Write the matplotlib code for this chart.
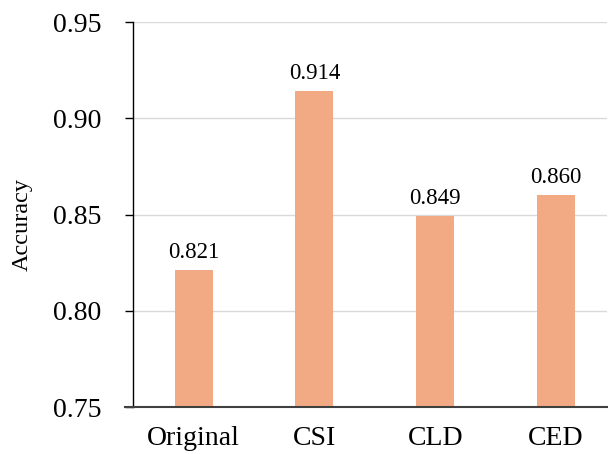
import matplotlib.pyplot as plt

# Data
methods = ['Original', 'CSI', 'CLD', 'CED']
accuracy = [0.821, 0.914, 0.849, 0.860]
value_labels = ['0.821', '0.914', '0.849', '0.860']

plt.rcParams['font.family'] = ['Liberation Serif', 'DejaVu Serif']

fig = plt.figure(figsize=(6.08, 4.54), dpi=100)
ax = fig.add_axes([0.219, 0.1035, 0.779, 0.848])

x = range(len(methods))
bars = ax.bar(x, accuracy, width=0.315, color='#F2AA84', zorder=3)

for xi, val, lab in zip(x, accuracy, value_labels):
    ax.text(xi, val + 0.004, lab, ha='center', va='bottom', fontsize=16.5)

ax.set_ylim(0.75, 0.95)
ax.set_yticks([0.75, 0.80, 0.85, 0.90, 0.95])
ax.set_yticklabels(['0.75', '0.80', '0.85', '0.90', '0.95'])
ax.set_xlim(-0.5, 3.42)
ax.set_xticks(list(x))
ax.set_xticklabels(methods)
ax.tick_params(axis='y', labelsize=20, length=6, width=1, pad=17)
ax.tick_params(axis='x', labelsize=20, length=0, pad=14)
ax.set_ylabel('Accuracy', fontsize=17.5, labelpad=14, y=0.475)

ax.grid(axis='y', color='#d9d9d9', linewidth=1, zorder=0)
ax.spines['top'].set_visible(False)
ax.spines['right'].set_visible(False)
ax.spines['left'].set_color('black')
ax.spines['left'].set_linewidth(1)
ax.spines['bottom'].set_visible(False)
# bottom axis line reaches a little past the left spine
ax.plot([-8 / 473.6, 1], [0, 0], transform=ax.transAxes, color='#404040',
        linewidth=1.5, clip_on=False, zorder=4)

plt.savefig('out.png', dpi=100)
